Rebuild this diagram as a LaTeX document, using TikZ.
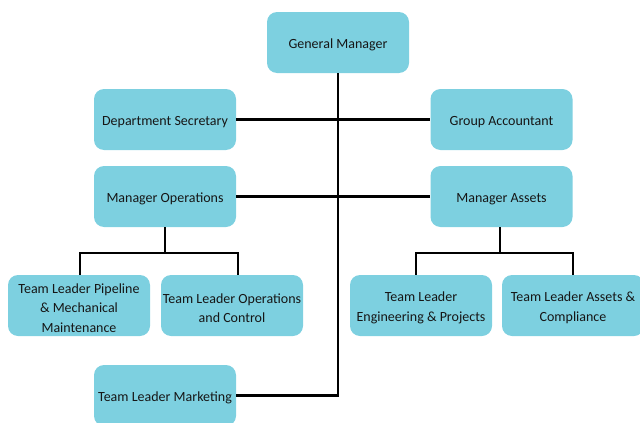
\documentclass[tikz,border=0pt]{standalone}
\usepackage{fontspec}
\setmainfont{Carlito}
\definecolor{boxfill}{HTML}{7DD0E0}
\definecolor{boxtext}{HTML}{161616}
% a rounded box (#1) at #2 with its caption set slightly below the middle
\newcommand{\orgunit}[3]{%
  \node[orgbox] (#1) at #2 {};
  \node[orgtext] (#1-t) at ([yshift=-2.5pt]#1.center) {#3};
}
\begin{document}
\begin{tikzpicture}[x=1pt,y=-1pt,
  orgbox/.style={fill=boxfill, rounded corners=10pt, minimum width=142pt,
    minimum height=61pt, inner sep=0pt},
  orgtext/.style={inner sep=0pt, text=boxtext, align=center,
    font=\fontsize{14}{19.5}\selectfont},
  link/.style={line width=2.6pt, draw=black}]
\useasboundingbox (0,0) rectangle (640,423);

% boxes
\orgunit{gm}{(338,42.5)}{General Manager}
\orgunit{ds}{(165,119.5)}{Department Secretary}
\orgunit{ga}{(501.5,119.5)}{Group Accountant}
\orgunit{mo}{(165,196.5)}{Manager Operations}
\orgunit{ma}{(501.5,196.5)}{Manager Assets}
\orgunit{tlp}{(79,305.5)}{Team Leader Pipeline\\ \& Mechanical\\ Maintenance}
\orgunit{tlo}{(232,305.5)}{Team Leader Operations\\ and Control}
\orgunit{tle}{(421,305.5)}{Team Leader\\ Engineering \& Projects}
\orgunit{tla}{(573,305.5)}{Team Leader Assets \&\\ Compliance}
\orgunit{tlm}{(165,395.5)}{Team Leader Marketing}

% junction points of the two sub-trees
\coordinate (jl) at (165,253);
\coordinate (jr) at (500,253);

% connectors
\draw[link] (gm.south) |- (tlm.east);
\draw[link] (ds.east) -- (ga.west);
\draw[link] (mo.east) -- (ma.west);

\draw[link] (mo.south) -- (jl);
\draw[link] ([xshift=1pt]tlp.north) |- (jl) -| ([xshift=6pt]tlo.north);
\draw[link] (ma.south -| jr) -- (jr);
\draw[link] ([xshift=-5pt]tle.north) |- (jr) -| (tla.north);
\end{tikzpicture}
\end{document}
